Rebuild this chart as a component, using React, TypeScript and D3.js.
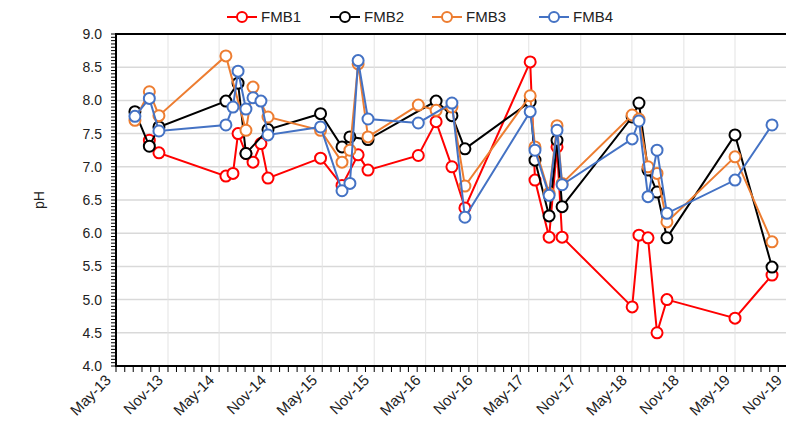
import React from "react";
import * as d3 from "d3";

const dates = [
  "2013-07-07", "2013-08-27", "2013-09-30", "2014-05-25", "2014-06-19", "2014-07-07",
  "2014-08-04", "2014-08-29", "2014-09-26", "2014-10-21", "2015-04-25", "2015-07-10",
  "2015-08-07", "2015-09-05", "2015-10-10", "2016-04-05", "2016-06-07", "2016-08-02",
  "2016-09-17", "2017-05-06", "2017-05-23", "2017-07-12", "2017-08-09", "2017-08-27",
  "2018-05-02", "2018-05-26", "2018-06-27", "2018-07-29", "2018-09-02", "2019-05-01",
  "2019-09-09",
];

const fmb1 = [null, 7.4, 7.21, 6.86, 6.9, 7.5, 7.2, 7.07, 7.35, 6.83, 7.13, 6.72, null, 7.18, 6.95, 7.17, 7.68, 7.0, 6.38, 8.58, 6.8, 5.94, 7.3, 5.94, 4.89, 5.97, 5.93, 4.5, 5.0, 4.72, 5.37];
const fmb2 = [7.83, 7.31, 7.6, 7.99, null, 8.26, 7.2, null, null, 7.56, 7.8, 7.3, 7.45, null, 7.41, null, 7.99, 7.77, 7.27, 7.98, 7.1, 6.26, 7.4, 6.4, 7.75, 7.96, 6.95, 6.62, 5.93, 7.48, 5.49];
const fmb3 = [7.7, 8.13, 7.77, 8.67, null, null, 7.55, 8.2, null, 7.75, 7.55, 7.07, 7.25, 8.55, 7.45, 7.93, 7.85, 7.9, 6.71, 8.07, 7.3, 6.6, 7.62, 6.75, 7.78, 7.72, 7.0, 6.9, 6.17, 7.15, 5.87];
const fmb4 = [7.76, 8.03, 7.54, 7.63, 7.9, 8.44, 7.87, 8.04, 7.99, 7.48, 7.6, 6.64, 6.75, 8.6, 7.72, 7.66, null, 7.96, 6.24, 7.83, 7.25, 6.57, 7.55, 6.73, 7.42, 7.69, 6.55, 7.25, 6.3, 6.8, 7.63];

const seriesNames = ["FMB1", "FMB2", "FMB3", "FMB4"];
const seriesValues = [fmb1, fmb2, fmb3, fmb4];
const seriesColors = ["#FF0000", "#000000", "#ED7D31", "#4472C4"];

const yTicks = [4.0, 4.5, 5.0, 5.5, 6.0, 6.5, 7.0, 7.5, 8.0, 8.5, 9.0];
const xTickLabels = ["May-13", "Nov-13", "May-14", "Nov-14", "May-15", "Nov-15", "May-16", "Nov-16", "May-17", "Nov-17", "May-18", "Nov-18", "May-19", "Nov-19"];

const W = 786;
const H = 443;
const FONT = "'Liberation Sans', Arial, sans-serif";

export default function App() {
  const parse = d3.timeParse("%Y-%m-%d");
  const start = new Date(2013, 4, 1);
  const x = d3
    .scaleTime()
    .domain([start, new Date(2019, 10, 1)])
    .range([116, 787]);
  const y = d3.scaleLinear().domain([4, 9]).range([366, 34]);

  const majorDates = xTickLabels.map((_, i) => d3.timeMonth.offset(start, 6 * i));
  const minorDates = d3.range(0, 79).map((i) => d3.timeMonth.offset(start, i));
  const minorY = d3.range(0, 101).map((i) => 4 + i * 0.05);

  const line = d3
    .line<{ d: Date; v: number }>()
    .x((p) => x(p.d))
    .y((p) => y(p.v));

  const series = seriesValues.map((vals, si) => ({
    name: seriesNames[si],
    color: seriesColors[si],
    pts: vals
      .map((v, i) => (v == null ? null : { d: parse(dates[i])!, v: v as number }))
      .filter((p): p is { d: Date; v: number } => p !== null),
  }));

  const legendX = [242, 345, 447, 554];

  return (
    <svg
      width={W}
      height={H}
      style={{ position: "absolute", left: 0, top: 0, background: "#fff" }}
      fontFamily={FONT}
    >
      <rect x={0} y={0} width={W} height={H} fill="#fff" />
      {yTicks.map((t) => (
        <line key={"gy" + t} x1={116} x2={787} y1={y(t)} y2={y(t)} stroke="#d9d9d9" strokeWidth={1.5} />
      ))}
      {majorDates.map((d, i) => (
        <line key={"gx" + i} x1={x(d)} x2={x(d)} y1={34} y2={366} stroke="#e3e3e3" strokeWidth={1} />
      ))}
      {minorY.map((t, i) => (
        <line key={"my" + i} x1={111} x2={116} y1={y(t)} y2={y(t)} stroke="#000" strokeWidth={1} />
      ))}
      {minorDates.map((d, i) => (
        <line key={"mx" + i} x1={x(d)} x2={x(d)} y1={366} y2={372} stroke="#000" strokeWidth={1} />
      ))}
      <line x1={116} x2={787} y1={34} y2={34} stroke="#000" strokeWidth={2} />
      <line x1={116} x2={787} y1={366} y2={366} stroke="#000" strokeWidth={2} />
      <line x1={116} x2={116} y1={33} y2={367} stroke="#000" strokeWidth={2} />
      {yTicks.map((t) => (
        <text key={"yl" + t} x={102} y={y(t) + 5} textAnchor="end" fontSize={14} fill="#222">
          {t.toFixed(1)}
        </text>
      ))}
      <text transform="translate(44,200) rotate(-90)" textAnchor="middle" fontSize={14} fill="#222">
        pH
      </text>
      {majorDates.map((d, i) => (
        <text
          key={"xl" + i}
          transform={`translate(${x(d) - 4},${381}) rotate(-45)`}
          textAnchor="end"
          fontSize={15}
          fill="#222"
        >
          {xTickLabels[i]}
        </text>
      ))}
      {series.map((s) => (
        <g key={s.name}>
          <path d={line(s.pts) || ""} fill="none" stroke={s.color} strokeWidth={2} />
          {s.pts.map((p, i) => (
            <circle key={i} cx={x(p.d)} cy={y(p.v)} r={5.5} fill="#fff" stroke={s.color} strokeWidth={2} />
          ))}
        </g>
      ))}
      {series.map((s, i) => (
        <g key={"lg" + s.name}>
          <line x1={legendX[i] - 15} x2={legendX[i] + 15} y1={17} y2={17} stroke={s.color} strokeWidth={2} />
          <circle cx={legendX[i]} cy={17} r={5} fill="#fff" stroke={s.color} strokeWidth={2} />
          <text x={legendX[i] + 19} y={22} fontSize={15} fill="#222">
            {s.name}
          </text>
        </g>
      ))}
    </svg>
  );
}
